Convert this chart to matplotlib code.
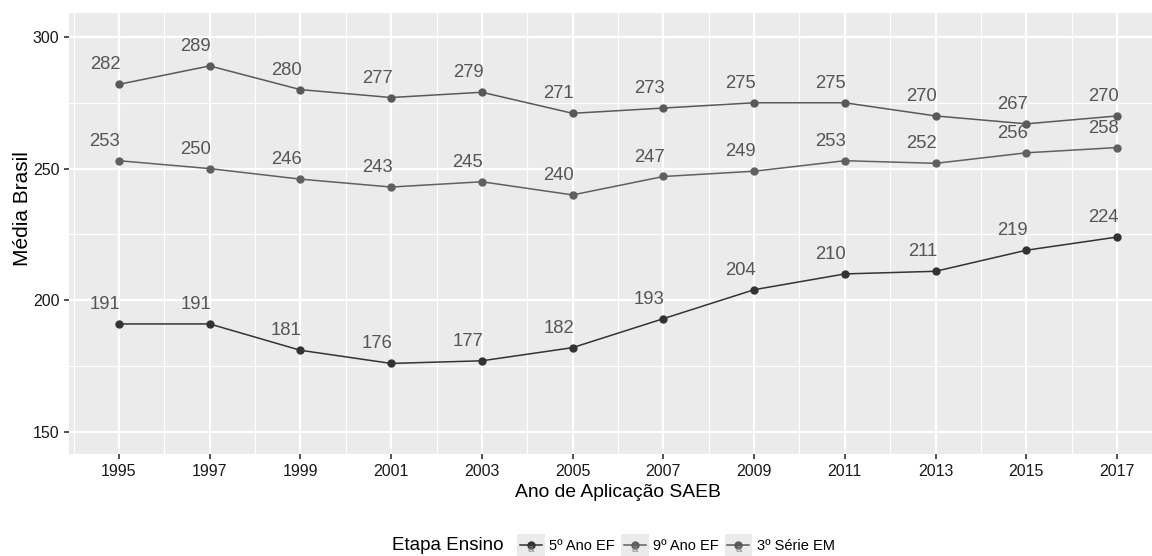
import matplotlib
matplotlib.use('Agg')

import matplotlib.pyplot as plt
from matplotlib.lines import Line2D
from matplotlib.patches import Rectangle
from matplotlib.legend_handler import HandlerBase
from matplotlib.ticker import MultipleLocator

plt.rcParams['font.family'] = ['Liberation Sans', 'DejaVu Sans']

anos = [1995, 1997, 1999, 2001, 2003, 2005, 2007, 2009, 2011, 2013, 2015, 2017]
ef5 = [191, 191, 181, 176, 177, 182, 193, 204, 210, 211, 219, 224]
ef9 = [253, 250, 246, 243, 245, 240, 247, 249, 253, 252, 256, 258]
em3 = [282, 289, 280, 277, 279, 271, 273, 275, 275, 270, 267, 270]

series = [
    ('5º Ano EF', ef5, '#333333'),
    ('9º Ano EF', ef9, '#606060'),
    ('3º Série EM', em3, '#595959'),
]

W, H = 1152, 556
fig = plt.figure(figsize=(W / 100, H / 100), dpi=100)
# panel runs past the right edge like the original (cropped)
ax = fig.add_axes([69 / W, 102 / H, 1098 / W, 441 / H])
ax.set_facecolor('#ebebeb')
ax.set_xlim(1993.9, 2018.1)
ax.set_ylim(141.6, 309.1)

ax.yaxis.set_major_locator(MultipleLocator(50))
ax.yaxis.set_minor_locator(MultipleLocator(25))
ax.set_xticks(anos)
ax.set_xticks([a + 1 for a in [1993] + anos], minor=True)
ax.grid(which='major', color='white', linewidth=1.6)
ax.grid(which='minor', color='white', linewidth=0.8)
ax.set_axisbelow(True)
for s in ax.spines.values():
    s.set_visible(False)

ax.tick_params(which='major', length=3.5, width=1.2, color='#333333',
               labelsize=11.5, labelcolor='#1a1a1a', pad=3.5)
ax.tick_params(which='minor', length=0)

for nome, vals, cor in series:
    ax.plot(anos, vals, color=cor, linewidth=1.1, marker='o', markersize=5, zorder=3)
    for a, v in zip(anos, vals):
        ax.annotate(str(v), (a, v), xytext=(1, 14), textcoords='offset points',
                    ha='right', va='center', fontsize=13.3, color='#555555')

ax.set_xlabel('Ano de Aplicação SAEB', fontsize=13.9, labelpad=4)
ax.set_ylabel('Média Brasil', fontsize=15, labelpad=3)
ax.yaxis.set_label_coords(-0.0337, 0.556)


class KeyHandler(HandlerBase):
    def __init__(self, cor):
        super().__init__()
        self.cor = cor

    def create_artists(self, legend, orig, xd, yd, w, h, fs, trans):
        bg = Rectangle((-xd, -yd - 4), w, h + 8, facecolor='#ebebeb',
                       edgecolor='none', transform=trans)
        ln = Line2D([-xd + 2, -xd + w - 2], [-yd + h / 2] * 2, color=self.cor,
                    linewidth=1.1, transform=trans)
        pt = Line2D([-xd + w / 2], [-yd + h / 2], color=self.cor, marker='o',
                    markersize=5, linestyle='none', transform=trans)
        tx = plt.Text(-xd + w / 2, -yd + h / 2 - 3, 'a', ha='center', va='center',
                      fontsize=8, color='#888888', transform=trans)
        return [bg, ln, pt, tx]


handles = [Line2D([], []) for _ in series]
fig.legend(handles, [s[0] for s in series], loc='center left',
           bbox_to_anchor=(507 / W, 1 - 546 / H), ncol=3, frameon=False,
           fontsize=10.5, handlelength=1.9, handletextpad=0.3, columnspacing=0.4,
           borderpad=0.2, handler_map={h: KeyHandler(s[2]) for h, s in zip(handles, series)})
fig.text(392 / W, 1 - 546 / H, 'Etapa Ensino', fontsize=13.5, va='center', ha='left')

fig.savefig('out.png', dpi=100)
